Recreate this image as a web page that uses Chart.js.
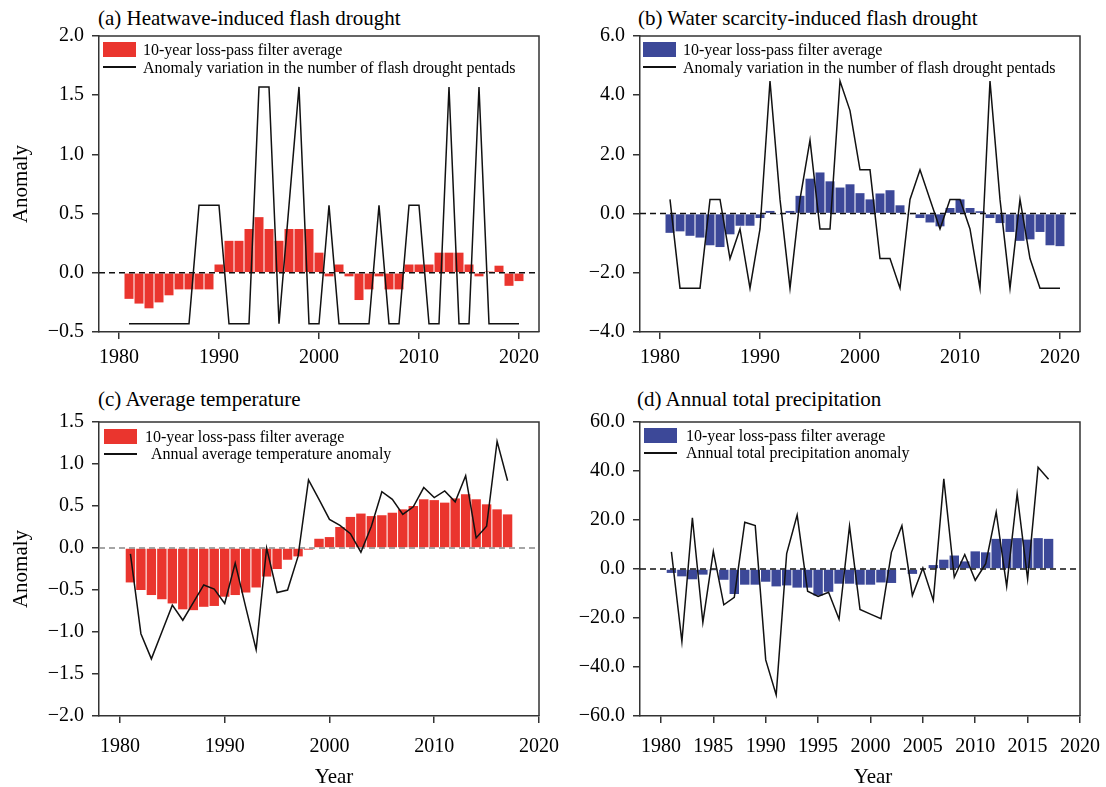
<!DOCTYPE html>
<html>
<head>
<meta charset="utf-8">
<script src="https://cdn.jsdelivr.net/npm/chart.js@4.4.1/dist/chart.umd.min.js"></script>
<style>
  body { margin: 0; background: #fff; overflow: hidden; font-family: "Liberation Serif", "Times New Roman", serif; color: #000; }
  .panel { position: absolute; }
  .txt { position: absolute; white-space: pre; }
  .title { font-size: 21px; line-height: 24px; }
  .leg { font-size: 16px; line-height: 18px; }
  .swatch { position: absolute; width: 33px; height: 15px; }
  .lline { position: absolute; width: 33px; height: 1.5px; background: #111; }
  .xt { font-size: 21px; line-height: 24px; transform: translateX(-50%); }
</style>
</head>
<body>

<div class="txt title" style="left:98px; top:6px">(a) Heatwave-induced flash drought</div>
<div class="txt title" style="left:638px; top:6px">(b) Water scarcity-induced flash drought</div>
<div class="txt title" style="left:98px; top:387px">(c) Average temperature</div>
<div class="txt title" style="left:637px; top:387px">(d) Annual total precipitation</div>

<div class="panel" style="left:0; top:16px; width:560px; height:356px"><canvas id="chartA"></canvas></div>
<div class="panel" style="left:541px; top:16px; width:560px; height:356px"><canvas id="chartB"></canvas></div>
<div class="panel" style="left:0; top:402px; width:572px; height:364px"><canvas id="chartC"></canvas></div>
<div class="panel" style="left:541px; top:402px; width:572px; height:364px"><canvas id="chartD"></canvas></div>

<!-- legends -->
<div class="swatch" style="left:103px; top:42px; background:rgb(234,53,46)"></div>
<div class="lline" style="left:103px; top:66px"></div>
<div class="txt leg" style="left:143px; top:41px">10-year loss-pass filter average</div>
<div class="txt leg" style="left:143px; top:59px">Anomaly variation in the number of flash drought pentads</div>

<div class="swatch" style="left:643px; top:42px; background:rgb(60,72,152)"></div>
<div class="lline" style="left:643px; top:66px"></div>
<div class="txt leg" style="left:683px; top:41px">10-year loss-pass filter average</div>
<div class="txt leg" style="left:683px; top:59px">Anomaly variation in the number of flash drought pentads</div>

<div class="swatch" style="left:104px; top:429px; background:rgb(234,53,46)"></div>
<div class="lline" style="left:104px; top:453px"></div>
<div class="txt leg" style="left:145px; top:428px">10-year loss-pass filter average</div>
<div class="txt leg" style="left:151px; top:445px">Annual average temperature anomaly</div>

<div class="swatch" style="left:644px; top:428px; background:rgb(60,72,152)"></div>
<div class="lline" style="left:644px; top:452px"></div>
<div class="txt leg" style="left:686px; top:427px">10-year loss-pass filter average</div>
<div class="txt leg" style="left:686px; top:444px">Annual total precipitation anomaly</div>

<div class="txt xt" style="left:334px; top:764px">Year</div>
<div class="txt xt" style="left:873px; top:764px">Year</div>

<script>
// years
const yearsTop = [1981,1982,1983,1984,1985,1986,1987,1988,1989,1990,
  1991,1992,1993,1994,1995,1996,1997,1998,1999,2000,
  2001,2002,2003,2004,2005,2006,2007,2008,2009,2010,
  2011,2012,2013,2014,2015,2016,2017,2018,2019,2020]
const yearsBottom = [1981,1982,1983,1984,1985,1986,1987,1988,1989,1990,
  1991,1992,1993,1994,1995,1996,1997,1998,1999,2000,
  2001,2002,2003,2004,2005,2006,2007,2008,2009,2010,
  2011,2012,2013,2014,2015,2016,2017]

// (a) heatwave-induced flash drought
const heatBars = [-0.22,-0.26,-0.30,-0.25,-0.19,-0.14,-0.14,-0.14,-0.14,0.07,
  0.27,0.27,0.37,0.47,0.37,0.27,0.37,0.37,0.37,0.17,
  -0.03,0.07,-0.03,-0.23,-0.14,-0.03,-0.14,-0.14,0.07,0.07,
  0.07,0.17,0.17,0.17,0.07,-0.03,0.01,0.06,-0.11,-0.07]
const heatLine = [-0.43,-0.43,-0.43,-0.43,-0.43,-0.43,-0.43,0.57,0.57,0.57,
  -0.43,-0.43,-0.43,1.57,1.57,-0.43,0.57,1.57,-0.43,-0.43,
  0.57,-0.43,-0.43,-0.43,-0.43,0.57,-0.43,-0.43,0.57,0.57,
  -0.43,-0.43,1.57,-0.43,-0.43,1.57,-0.43,-0.43,-0.43,-0.43]

// (b) water scarcity-induced flash drought
const waterBars = [-0.65,-0.60,-0.75,-0.81,-1.07,-1.13,-0.70,-0.41,-0.41,-0.15,
  0.09,-0.03,0.09,0.60,1.18,1.39,1.09,0.88,0.99,0.69,
  0.48,0.68,0.79,0.28,-0.02,-0.15,-0.30,-0.43,0.19,0.48,
  0.19,0.08,-0.15,-0.32,-0.62,-0.92,-0.87,-0.62,-1.07,-1.10]
const waterLine = [0.48,-2.52,-2.52,-2.52,0.48,0.48,-1.52,-0.52,-2.52,-0.52,
  4.48,0.48,-2.52,0.48,2.48,-0.52,-0.52,4.48,3.48,1.48,
  1.48,-1.52,-1.52,-2.52,0.48,1.48,0.48,-0.52,0.48,0.48,
  -0.52,-2.52,4.48,0.48,-2.52,0.48,-1.52,-2.52,-2.52,-2.52]

// (c) average temperature
const tempBars = [-0.41,-0.50,-0.56,-0.61,-0.66,-0.73,-0.74,-0.70,-0.69,-0.58,
  -0.56,-0.53,-0.47,-0.34,-0.25,-0.14,-0.10,-0.02,0.11,0.13,
  0.25,0.37,0.41,0.38,0.39,0.42,0.46,0.50,0.58,0.57,
  0.54,0.59,0.64,0.58,0.52,0.46,0.40]
const tempLine = [-0.07,-1.02,-1.32,-1.00,-0.68,-0.86,-0.65,-0.44,-0.49,-0.66,
  -0.18,-0.70,-1.21,0.00,-0.53,-0.50,-0.10,0.81,0.58,0.34,
  0.27,0.17,-0.05,0.26,0.67,0.58,0.40,0.49,0.72,0.60,
  0.68,0.55,0.86,0.12,0.26,1.27,0.80]

// (d) annual total precipitation
const precipBars = [-1.6,-3.0,-4.2,-2.3,-0.5,-4.4,-10.2,-6.4,-6.4,-5.2,
  -7.1,-6.7,-7.6,-7.6,-10.8,-9.3,-6.0,-6.0,-6.4,-6.4,
  -5.5,-5.7,-0.3,-2.0,0.3,1.6,3.8,5.5,3.1,7.2,
  6.8,12.3,12.3,12.6,12.0,12.6,12.3]
const precipLine = [7.0,-29.6,20.9,-21.8,7.2,-14.6,-11.6,19.1,17.7,-37.1,
  -51.4,6.3,22.0,-9.1,-11.2,-9.5,-20.5,17.5,-16.5,-18.4,
  -20.3,6.8,17.7,-10.8,0.4,-12.8,36.8,-3.4,5.9,-4.6,
  2.2,23.2,-7.1,30.7,-4.1,41.5,36.6]

const RED = 'rgb(234,53,46)'
const BLUE = 'rgb(60,72,152)'
const AXIS = '#333'

Chart.defaults.font.family = '"Liberation Serif", "Times New Roman", serif'
Chart.defaults.font.size = 20
Chart.defaults.color = '#000'

// dashed zero line (over the bars) and the box round the plot
const framePlugin = {
    id: 'frame',
    afterDatasetDraw(chart, args, opts) {
        if (args.meta.type !== 'bar') return
        const {ctx, chartArea} = chart
        const y0 = chart.scales.y.getPixelForValue(0)
        ctx.save()
        ctx.strokeStyle = opts.zeroColor
        ctx.lineWidth = 1.5
        ctx.setLineDash([6, 4])
        ctx.beginPath()
        ctx.moveTo(chartArea.left, y0)
        ctx.lineTo(chartArea.right, y0)
        ctx.stroke()
        ctx.restore()
    },
    afterDraw(chart) {
        const {ctx, chartArea} = chart
        ctx.save()
        ctx.strokeStyle = AXIS
        ctx.lineWidth = 1.5
        ctx.beginPath()
        ctx.moveTo(chartArea.left, chartArea.top)
        ctx.lineTo(chartArea.right, chartArea.top)
        ctx.lineTo(chartArea.right, chartArea.bottom)
        ctx.stroke()
        ctx.restore()
    }
}

function toPoints(years, values) {
    return years.map((yr, i) => ({x: yr, y: values[i]}))
}

function makeChart(id, cfg) {
    new Chart(document.getElementById(id), {
        type: 'bar',
        data: {
            datasets: [{
                type: 'bar',
                data: toPoints(cfg.years, cfg.bars),
                backgroundColor: cfg.barColor,
                borderWidth: 0,
                barPercentage: 0.9,
                categoryPercentage: 1,
                order: 1
            }, {
                type: 'line',
                data: toPoints(cfg.years, cfg.line),
                borderColor: '#111',
                borderWidth: 1.5,
                pointRadius: 0,
                tension: 0,
                fill: false,
                order: 0
            }]
        },
        options: {
            responsive: true,
            maintainAspectRatio: false,
            animation: false,
            events: [],
            layout: {padding: {top: 20, right: cfg.padRight, bottom: 0, left: 0}},
            scales: {
                x: {
                    type: 'linear',
                    offset: false,
                    min: 1978,
                    max: cfg.xMax,
                    border: {color: AXIS, width: 1.5},
                    grid: {drawOnChartArea: false, drawTicks: true, tickLength: 7, color: AXIS, lineWidth: 1.5, offset: false},
                    ticks: {stepSize: cfg.xStep, includeBounds: false, padding: cfg.xPad, maxRotation: 0, autoSkip: false,
                        callback: v => String(v)},
                    afterFit: s => { s.height = cfg.xHeight }
                },
                y: {
                    min: cfg.yMin,
                    max: cfg.yMax,
                    border: {color: AXIS, width: 1.5},
                    grid: {drawOnChartArea: false, drawTicks: true, tickLength: 7, color: AXIS, lineWidth: 1.5},
                    ticks: {stepSize: cfg.yStep, padding: 8,
                        callback: v => (v < 0 ? '\u2212' : '') + Math.abs(v).toFixed(1)},
                    title: {display: cfg.yTitle, text: 'Anomaly', font: {size: 21}, padding: {top: 9, bottom: 0}},
                    afterFit: s => { s.width = 99 }
                }
            },
            plugins: {
                legend: {display: false},
                tooltip: {enabled: false},
                frame: {zeroColor: cfg.zeroColor}
            }
        },
        plugins: [framePlugin]
    })
}

makeChart('chartA', {years: yearsTop, bars: heatBars, line: heatLine, barColor: RED,
    yMin: -0.5, yMax: 2.0, yStep: 0.5, xMax: 2022, xStep: 10, xPad: 7, xHeight: 40,
    padRight: 21, yTitle: true, zeroColor: '#111'})
makeChart('chartB', {years: yearsTop, bars: waterBars, line: waterLine, barColor: BLUE,
    yMin: -4, yMax: 6, yStep: 2, xMax: 2022, xStep: 10, xPad: 7, xHeight: 40,
    padRight: 21, yTitle: false, zeroColor: '#111'})
makeChart('chartC', {years: yearsBottom, bars: tempBars, line: tempLine, barColor: RED,
    yMin: -2, yMax: 1.5, yStep: 0.5, xMax: 2020, xStep: 10, xPad: 12, xHeight: 50,
    padRight: 33, yTitle: true, zeroColor: '#888'})
makeChart('chartD', {years: yearsBottom, bars: precipBars, line: precipLine, barColor: BLUE,
    yMin: -60, yMax: 60, yStep: 20, xMax: 2020, xStep: 5, xPad: 12, xHeight: 50,
    padRight: 33, yTitle: false, zeroColor: '#111'})
</script>
</body>
</html>
